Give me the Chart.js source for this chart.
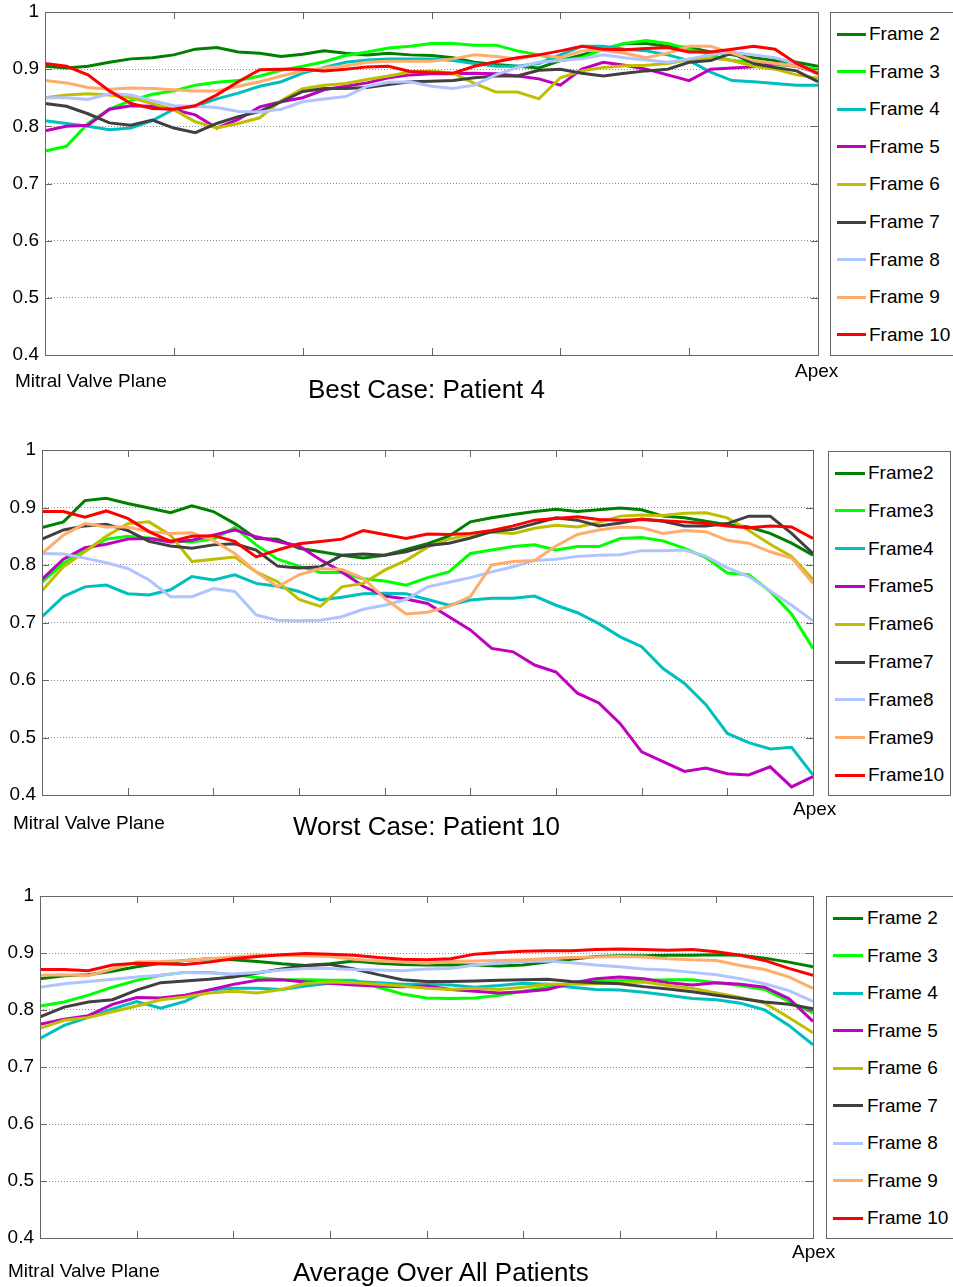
<!DOCTYPE html>
<html lang="en">
<head>
<meta charset="UTF-8">
<title>Frame agreement from mitral valve plane to apex</title>
<script src="https://cdn.jsdelivr.net/npm/chart.js"></script>
<style>
  body { margin: 0; background: #fff; font-family: "Liberation Sans", Arial, sans-serif; color: #000; }
  #page { position: relative; width: 953px; height: 1287px; overflow: hidden; }
  canvas { position: absolute; left: 0; }
  .legend { position: absolute; border: 1px solid #666; background: #fff; box-sizing: border-box; }
  .legend .item { position: absolute; left: 0; right: 0; height: 20px; font-size: 19px; line-height: 20px; white-space: nowrap; }
  .legend .swatch { position: absolute; top: 8.5px; height: 3px; }
  .legend .name { position: absolute; top: 0; }
  .note { position: absolute; font-size: 19px; line-height: 19px; white-space: nowrap; }
  .title { position: absolute; font-size: 26px; line-height: 26px; white-space: nowrap; }
</style>
</head>
<body>
<div id="page">
  <canvas id="best" width="953" height="420" style="top:0px"></canvas>
  <canvas id="worst" width="953" height="420" style="top:430px"></canvas>
  <canvas id="avg" width="953" height="417" style="top:870px"></canvas>

  <div class="note" style="left:15px; top:371px">Mitral Valve Plane</div>
  <div class="note" style="left:795px; top:361px">Apex</div>
  <div class="title" style="left:308px; top:376px">Best Case: Patient 4</div>

  <div class="note" style="left:13px; top:813px">Mitral Valve Plane</div>
  <div class="note" style="left:793px; top:799px">Apex</div>
  <div class="title" style="left:293px; top:813px">Worst Case: Patient 10</div>

  <div class="note" style="left:8px; top:1261px">Mitral Valve Plane</div>
  <div class="note" style="left:792px; top:1242px">Apex</div>
  <div class="title" style="left:293px; top:1259px">Average Over All Patients</div>
</div>
<script>
// legend names and line colours (Frame 2 .. Frame 10)
const FRAMES = ['Frame 2', 'Frame 3', 'Frame 4', 'Frame 5', 'Frame 6', 'Frame 7', 'Frame 8', 'Frame 9', 'Frame 10'];
const FRAMES_TIGHT = ['Frame2', 'Frame3', 'Frame4', 'Frame5', 'Frame6', 'Frame7', 'Frame8', 'Frame9', 'Frame10'];
const COLORS = ['#008000', '#00ff00', '#00bfbf', '#bf00bf', '#bfbf00', '#404040', '#b0c4ff', '#ffad6c', '#ff0000'];

// sample positions from mitral valve plane (0) to apex (last)
const POS_BEST = [0, 1, 2, 3, 4, 5, 6, 7, 8, 9, 10, 11, 12, 13, 14, 15, 16, 17, 18, 19, 20, 21, 22, 23, 24, 25, 26, 27, 28, 29, 30, 31, 32, 33, 34, 35, 36];
const POS_WORST = [0, 1, 2, 3, 4, 5, 6, 7, 8, 9, 10, 11, 12, 13, 14, 15, 16, 17, 18, 19, 20, 21, 22, 23, 24, 25, 26, 27, 28, 29, 30, 31, 32, 33, 34, 35, 36];
const POS_AVG = [0, 1, 2, 3, 4, 5, 6, 7, 8, 9, 10, 11, 12, 13, 14, 15, 16, 17, 18, 19, 20, 21, 22, 23, 24, 25, 26, 27, 28, 29, 30, 31, 32];

// Best case: patient 4
const best2 = [0.905, 0.902, 0.905, 0.912, 0.918, 0.92, 0.925, 0.935, 0.938, 0.93, 0.928, 0.922, 0.926, 0.932, 0.928, 0.925, 0.928, 0.925, 0.924,
  0.92, 0.912, 0.908, 0.905, 0.902, 0.915, 0.925, 0.935, 0.945, 0.945, 0.94, 0.938, 0.93, 0.925, 0.92, 0.915, 0.912, 0.905];
const best3 = [0.757, 0.765, 0.805, 0.83, 0.845, 0.856, 0.862, 0.872, 0.877, 0.88, 0.888, 0.898, 0.905, 0.913, 0.924, 0.93, 0.937, 0.94, 0.945,
  0.945, 0.942, 0.942, 0.932, 0.925, 0.915, 0.92, 0.935, 0.945, 0.95, 0.945, 0.935, 0.925, 0.915, 0.912, 0.908, 0.905, 0.9];
const best4 = [0.81, 0.805, 0.8, 0.794, 0.797, 0.81, 0.83, 0.835, 0.848, 0.858, 0.87, 0.878, 0.893, 0.903, 0.912, 0.916, 0.918, 0.918, 0.918,
  0.915, 0.91, 0.905, 0.905, 0.91, 0.925, 0.94, 0.94, 0.935, 0.932, 0.925, 0.915, 0.895, 0.88, 0.878, 0.875, 0.872, 0.872];
const best5 = [0.792, 0.8, 0.802, 0.83, 0.836, 0.835, 0.829, 0.82, 0.797, 0.812, 0.834, 0.843, 0.85, 0.864, 0.87, 0.876, 0.885, 0.89, 0.892,
  0.892, 0.893, 0.892, 0.888, 0.883, 0.872, 0.9, 0.912, 0.907, 0.9, 0.89, 0.88, 0.9, 0.902, 0.904, 0.91, 0.905, 0.893];
const best6 = [0.85, 0.855, 0.857, 0.855, 0.85, 0.84, 0.829, 0.808, 0.797, 0.805, 0.815, 0.845, 0.866, 0.872, 0.875, 0.882, 0.888, 0.895, 0.897,
  0.893, 0.875, 0.86, 0.86, 0.848, 0.885, 0.897, 0.903, 0.906, 0.907, 0.91, 0.917, 0.92, 0.915, 0.905, 0.9, 0.89, 0.884];
const best7 = [0.84, 0.835, 0.822, 0.806, 0.802, 0.811, 0.797, 0.789, 0.805, 0.817, 0.826, 0.843, 0.861, 0.866, 0.866, 0.868, 0.873, 0.878, 0.879,
  0.88, 0.885, 0.888, 0.888, 0.898, 0.9, 0.893, 0.888, 0.893, 0.897, 0.9, 0.912, 0.915, 0.928, 0.91, 0.903, 0.897, 0.878];
const best8 = [0.85, 0.85, 0.847, 0.857, 0.855, 0.845, 0.836, 0.835, 0.833, 0.826, 0.825, 0.83, 0.843, 0.848, 0.852, 0.87, 0.877, 0.878, 0.87,
  0.866, 0.872, 0.89, 0.903, 0.912, 0.915, 0.918, 0.925, 0.92, 0.916, 0.912, 0.918, 0.925, 0.93, 0.925, 0.92, 0.91, 0.89];
const best9 = [0.88, 0.876, 0.868, 0.865, 0.867, 0.866, 0.864, 0.862, 0.862, 0.87, 0.878, 0.888, 0.897, 0.902, 0.906, 0.912, 0.914, 0.914, 0.914,
  0.918, 0.925, 0.922, 0.918, 0.925, 0.92, 0.932, 0.933, 0.928, 0.92, 0.928, 0.94, 0.94, 0.928, 0.915, 0.91, 0.905, 0.895];
const best10 = [0.91, 0.905, 0.89, 0.862, 0.84, 0.831, 0.83, 0.836, 0.855, 0.878, 0.899, 0.9, 0.9, 0.897, 0.9, 0.904, 0.905, 0.896, 0.894,
  0.893, 0.905, 0.913, 0.92, 0.925, 0.932, 0.94, 0.935, 0.934, 0.936, 0.938, 0.93, 0.93, 0.935, 0.94, 0.935, 0.91, 0.892];

// Worst case: patient 10
const worst2 = [0.865, 0.875, 0.912, 0.916, 0.907, 0.899, 0.891, 0.903, 0.893, 0.872, 0.846, 0.845, 0.829, 0.823, 0.817, 0.812, 0.817, 0.827, 0.837,
  0.85, 0.875, 0.882, 0.888, 0.893, 0.897, 0.893, 0.896, 0.899, 0.896, 0.885, 0.882, 0.876, 0.87, 0.866, 0.855, 0.838, 0.817];
const worst3 = [0.77, 0.803, 0.825, 0.845, 0.85, 0.847, 0.842, 0.84, 0.845, 0.865, 0.835, 0.81, 0.798, 0.787, 0.787, 0.776, 0.772, 0.765, 0.778,
  0.788, 0.82, 0.826, 0.832, 0.835, 0.826, 0.832, 0.832, 0.846, 0.848, 0.842, 0.829, 0.813, 0.786, 0.783, 0.754, 0.715, 0.655];
const worst4 = [0.71, 0.745, 0.762, 0.765, 0.75, 0.748, 0.757, 0.78, 0.774, 0.783, 0.768, 0.763, 0.754, 0.739, 0.744, 0.75, 0.751, 0.75, 0.74,
  0.73, 0.739, 0.742, 0.742, 0.746, 0.73, 0.717, 0.698, 0.675, 0.658, 0.62, 0.594, 0.557, 0.507, 0.491, 0.48, 0.483, 0.435];
const worst5 = [0.775, 0.81, 0.83, 0.836, 0.845, 0.846, 0.84, 0.843, 0.852, 0.861, 0.849, 0.841, 0.833, 0.809, 0.788, 0.763, 0.746, 0.741, 0.733,
  0.71, 0.687, 0.655, 0.649, 0.626, 0.614, 0.577, 0.56, 0.524, 0.475, 0.458, 0.441, 0.447, 0.437, 0.435, 0.449, 0.414, 0.432];
const worst6 = [0.755, 0.797, 0.823, 0.85, 0.872, 0.875, 0.852, 0.806, 0.81, 0.814, 0.788, 0.771, 0.74, 0.728, 0.762, 0.768, 0.791, 0.808, 0.831,
  0.845, 0.853, 0.857, 0.855, 0.864, 0.869, 0.866, 0.874, 0.885, 0.887, 0.886, 0.89, 0.891, 0.882, 0.86, 0.836, 0.815, 0.775];
const worst7 = [0.845, 0.861, 0.868, 0.871, 0.86, 0.841, 0.833, 0.829, 0.835, 0.837, 0.826, 0.798, 0.795, 0.797, 0.817, 0.819, 0.817, 0.823, 0.834,
  0.838, 0.847, 0.858, 0.862, 0.872, 0.882, 0.878, 0.868, 0.873, 0.88, 0.876, 0.868, 0.868, 0.872, 0.885, 0.885, 0.855, 0.82];
const worst8 = [0.82, 0.819, 0.812, 0.804, 0.794, 0.774, 0.745, 0.745, 0.759, 0.754, 0.713, 0.704, 0.703, 0.704, 0.71, 0.723, 0.73, 0.74, 0.762,
  0.77, 0.778, 0.788, 0.797, 0.808, 0.81, 0.815, 0.817, 0.818, 0.825, 0.825, 0.826, 0.815, 0.795, 0.78, 0.755, 0.73, 0.703];
const worst9 = [0.82, 0.852, 0.872, 0.866, 0.866, 0.858, 0.855, 0.856, 0.843, 0.82, 0.788, 0.762, 0.783, 0.794, 0.792, 0.777, 0.742, 0.715, 0.718,
  0.728, 0.745, 0.8, 0.806, 0.808, 0.833, 0.853, 0.861, 0.866, 0.865, 0.855, 0.86, 0.858, 0.843, 0.838, 0.823, 0.812, 0.768];
const worst10 = [0.893, 0.893, 0.883, 0.894, 0.881, 0.858, 0.841, 0.85, 0.851, 0.841, 0.814, 0.826, 0.837, 0.841, 0.845, 0.86, 0.853, 0.846, 0.854,
  0.853, 0.855, 0.86, 0.868, 0.878, 0.881, 0.884, 0.879, 0.878, 0.879, 0.877, 0.875, 0.872, 0.868, 0.865, 0.868, 0.866, 0.846];

// Average over all patients
const avg2 = [0.855, 0.86, 0.862, 0.868, 0.876, 0.882, 0.887, 0.89, 0.888, 0.885, 0.881, 0.878, 0.881, 0.886, 0.882, 0.88, 0.879,
  0.879, 0.879, 0.877, 0.879, 0.884, 0.889, 0.894, 0.895, 0.895, 0.896, 0.896, 0.897, 0.896, 0.891, 0.884, 0.876];
const avg3 = [0.807, 0.814, 0.826, 0.84, 0.852, 0.861, 0.866, 0.866, 0.862, 0.857, 0.853, 0.853, 0.852, 0.852, 0.84, 0.828, 0.821,
  0.82, 0.821, 0.826, 0.833, 0.84, 0.847, 0.85, 0.852, 0.852, 0.853, 0.853, 0.848, 0.843, 0.836, 0.815, 0.795];
const avg4 = [0.75, 0.773, 0.787, 0.802, 0.815, 0.803, 0.815, 0.835, 0.838, 0.838, 0.836, 0.842, 0.847, 0.85, 0.848, 0.845, 0.845,
  0.844, 0.84, 0.843, 0.847, 0.845, 0.84, 0.836, 0.835, 0.831, 0.826, 0.82, 0.818, 0.812, 0.8, 0.773, 0.739];
const avg5 = [0.775, 0.784, 0.79, 0.81, 0.822, 0.821, 0.826, 0.835, 0.845, 0.852, 0.853, 0.849, 0.847, 0.844, 0.842, 0.841, 0.842,
  0.836, 0.833, 0.83, 0.832, 0.836, 0.847, 0.855, 0.858, 0.855, 0.848, 0.844, 0.848, 0.845, 0.84, 0.82, 0.78];
const avg6 = [0.768, 0.782, 0.787, 0.797, 0.807, 0.818, 0.823, 0.83, 0.833, 0.83, 0.836, 0.847, 0.849, 0.848, 0.845, 0.842, 0.838,
  0.836, 0.838, 0.836, 0.84, 0.845, 0.845, 0.846, 0.848, 0.849, 0.843, 0.838, 0.83, 0.822, 0.812, 0.787, 0.76];
const avg7 = [0.788, 0.805, 0.814, 0.818, 0.835, 0.848, 0.851, 0.854, 0.858, 0.865, 0.872, 0.878, 0.88, 0.872, 0.862, 0.853, 0.85,
  0.85, 0.851, 0.852, 0.853, 0.854, 0.85, 0.848, 0.846, 0.841, 0.837, 0.832, 0.826, 0.82, 0.814, 0.81, 0.802];
const avg8 = [0.84, 0.846, 0.85, 0.854, 0.858, 0.861, 0.866, 0.865, 0.863, 0.866, 0.87, 0.873, 0.873, 0.871, 0.87, 0.869, 0.872,
  0.873, 0.879, 0.882, 0.885, 0.886, 0.883, 0.879, 0.876, 0.872, 0.87, 0.866, 0.862, 0.855, 0.846, 0.834, 0.815];
const avg9 = [0.861, 0.862, 0.86, 0.872, 0.884, 0.885, 0.887, 0.89, 0.893, 0.896, 0.896, 0.895, 0.894, 0.889, 0.886, 0.884, 0.882,
  0.885, 0.886, 0.887, 0.888, 0.89, 0.892, 0.893, 0.894, 0.893, 0.89, 0.888, 0.887, 0.878, 0.871, 0.858, 0.838];
const avg10 = [0.871, 0.871, 0.869, 0.879, 0.882, 0.881, 0.88, 0.884, 0.89, 0.894, 0.897, 0.899, 0.898, 0.896, 0.892, 0.889, 0.888,
  0.89, 0.898, 0.901, 0.903, 0.904, 0.904, 0.906, 0.907, 0.906, 0.905, 0.906, 0.902, 0.896, 0.887, 0.873, 0.861];

const FONT = '"Liberation Sans", Arial, sans-serif';
const PAGE_W = 953;

// plot box + inward tick marks, matlab style
const axisBox = {
  id: 'axisBox',
  afterDatasetsDraw(chart) {
    const { ctx, chartArea: a, scales: { x, y } } = chart;
    ctx.save();
    ctx.strokeStyle = '#666';
    ctx.lineWidth = 1;
    ctx.beginPath();
    x.ticks.forEach(t => {
      const px = Math.round(x.getPixelForValue(t.value)) + 0.5;
      ctx.moveTo(px, a.bottom); ctx.lineTo(px, a.bottom - 7);
      ctx.moveTo(px, a.top); ctx.lineTo(px, a.top + 7);
    });
    y.ticks.forEach(t => {
      const py = Math.round(y.getPixelForValue(t.value)) + 0.5;
      ctx.moveTo(a.left, py); ctx.lineTo(a.left + 7, py);
      ctx.moveTo(a.right, py); ctx.lineTo(a.right - 7, py);
    });
    ctx.stroke();
    ctx.strokeRect(Math.round(a.left) + 0.5, Math.round(a.top) + 0.5, Math.round(a.right - a.left), Math.round(a.bottom - a.top));
    ctx.restore();
  }
};

function buildLegend(chart, box) {
  const el = document.createElement('div');
  el.className = 'legend';
  el.style.left = box.x + 'px';
  el.style.top = box.y + 'px';
  el.style.width = box.w + 'px';
  el.style.height = box.h + 'px';
  chart.data.datasets.forEach((ds, i) => {
    const item = document.createElement('div');
    item.className = 'item';
    item.style.top = (box.first + i * box.step - 10) + 'px';
    const sw = document.createElement('span');
    sw.className = 'swatch';
    sw.style.left = box.sx + 'px';
    sw.style.width = box.sw + 'px';
    sw.style.background = ds.borderColor;
    const name = document.createElement('span');
    name.className = 'name';
    name.style.left = box.tx + 'px';
    name.textContent = ds.label;
    item.appendChild(sw);
    item.appendChild(name);
    el.appendChild(item);
  });
  document.getElementById('page').appendChild(el);
}

function makePanel(p) {
  const canvas = document.getElementById(p.id);
  const H = canvas.height;
  const chart = new Chart(canvas, {
    type: 'line',
    data: {
      datasets: p.series.map((vals, i) => ({
        label: p.names[i],
        data: vals.map((v, k) => ({ x: p.pos[k], y: v })),
        borderColor: COLORS[i],
        backgroundColor: COLORS[i],
        borderWidth: 3,
        pointRadius: 0,
        tension: 0,
        fill: false,
        order: p.series.length - i
      }))
    },
    options: {
      responsive: false,
      animation: false,
      devicePixelRatio: 1,
      layout: {
        padding: { left: 0, top: p.plot.t - p.top, right: PAGE_W - p.plot.r, bottom: p.top + H - p.plot.b }
      },
      plugins: { legend: { display: false }, tooltip: { enabled: false } },
      scales: {
        x: {
          type: 'linear',
          min: 0,
          max: p.pos[p.pos.length - 1],
          ticks: { display: false, stepSize: p.step },
          grid: { display: false },
          border: { display: false },
          afterFit: s => { s.height = 0; }
        },
        y: {
          min: 0.4,
          max: 1,
          ticks: {
            stepSize: 0.1,
            padding: 6,
            color: '#000',
            font: { family: FONT, size: 19 },
            callback: v => Math.abs(v - 1) < 1e-9 ? '1' : v.toFixed(1)
          },
          grid: { color: '#8c8c8c', lineWidth: 1, drawTicks: false },
          border: { display: false, dash: [1, 2] },
          afterFit: s => { s.width = p.plot.l; s.paddingTop = 0; s.paddingBottom = 0; }
        }
      }
    },
    plugins: [axisBox]
  });
  buildLegend(chart, p.legend);
}

makePanel({
  id: 'best', top: 0, pos: POS_BEST, step: 6, names: FRAMES,
  series: [best2, best3, best4, best5, best6, best7, best8, best9, best10],
  plot: { l: 45, r: 818, t: 12, b: 355 },
  legend: { x: 830, y: 12, w: 130, h: 344, first: 21, step: 37.6, sx: 6, sw: 29, tx: 38 }
});
makePanel({
  id: 'worst', top: 430, pos: POS_WORST, step: 4, names: FRAMES_TIGHT,
  series: [worst2, worst3, worst4, worst5, worst6, worst7, worst8, worst9, worst10],
  plot: { l: 42, r: 813, t: 450, b: 795 },
  legend: { x: 828, y: 451, w: 123, h: 345, first: 21, step: 37.8, sx: 6, sw: 30, tx: 39 }
});
makePanel({
  id: 'avg', top: 870, pos: POS_AVG, step: 4, names: FRAMES,
  series: [avg2, avg3, avg4, avg5, avg6, avg7, avg8, avg9, avg10],
  plot: { l: 40, r: 813, t: 896, b: 1238 },
  legend: { x: 826, y: 896, w: 130, h: 343, first: 21, step: 37.5, sx: 6, sw: 30, tx: 40 }
});
</script>
</body>
</html>
